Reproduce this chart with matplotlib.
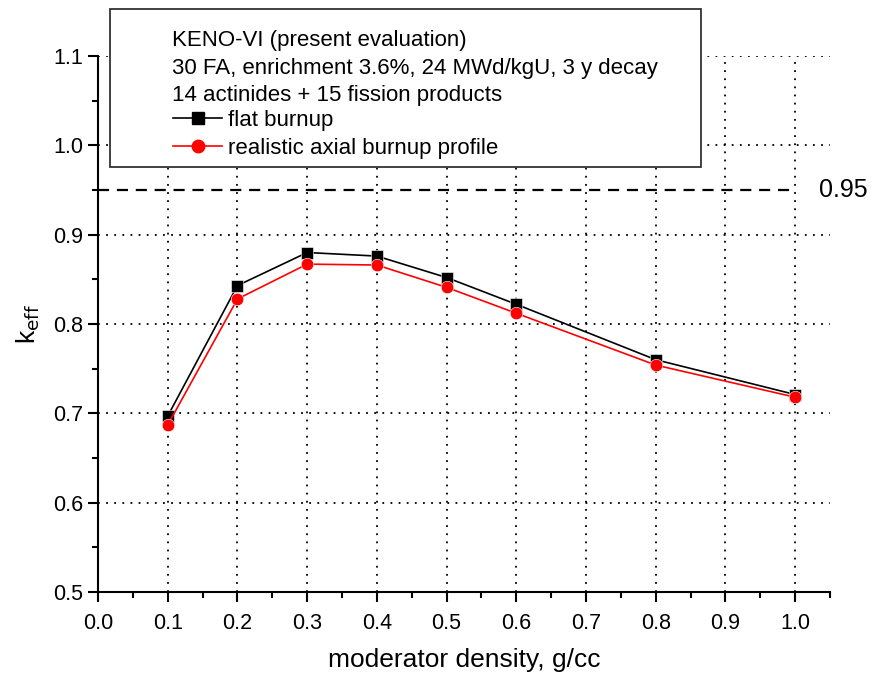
import matplotlib
matplotlib.use("Agg")
import matplotlib.pyplot as plt
from matplotlib.lines import Line2D
from matplotlib.patches import Rectangle
from matplotlib.ticker import MultipleLocator

plt.rcParams['font.family'] = ['Liberation Sans', 'DejaVu Sans']

# data
density = [0.1, 0.2, 0.3, 0.4, 0.5, 0.6, 0.8, 1.0]
k_flat = [0.697, 0.843, 0.880, 0.876, 0.852, 0.822, 0.760, 0.721]
k_profile = [0.687, 0.828, 0.867, 0.866, 0.841, 0.812, 0.754, 0.718]
limit = 0.95
info_lines = ["KENO-VI (present evaluation)",
              "30 FA, enrichment 3.6%, 24 MWd/kgU, 3 y decay",
              "14 actinides + 15 fission products"]
series_labels = ["flat burnup", "realistic axial burnup profile"]

fig = plt.figure(figsize=(8.73, 6.77), dpi=100)
ax = fig.add_axes([0.1123, 0.1256, 0.8385, 0.7917])

ax.plot(density, k_flat, color="black", lw=1.2, marker="s", ms=8,
        markeredgecolor="white", markeredgewidth=0.4, zorder=4)
ax.plot(density, k_profile, color="red", lw=1.2, marker="o", ms=9,
        markeredgecolor="white", markeredgewidth=0.4, zorder=5)

# limit line
ax.hlines(limit, 0, 1.0, colors="black", linestyles=(0, (5, 3.5)), lw=1.6, zorder=3)
ax.text(1.034, limit, "0.95", fontsize=18, va="center", ha="left", clip_on=False)

ax.set_xlim(0, 1.05)
ax.set_ylim(0.5, 1.1)
ax.xaxis.set_major_locator(MultipleLocator(0.1))
ax.xaxis.set_minor_locator(MultipleLocator(0.05))
ax.yaxis.set_major_locator(MultipleLocator(0.1))
ax.yaxis.set_minor_locator(MultipleLocator(0.05))
ax.xaxis.set_major_formatter(plt.FormatStrFormatter("%.1f"))
ax.yaxis.set_major_formatter(plt.FormatStrFormatter("%.1f"))

ax.grid(True, which="major", color="black", linestyle=(0, (1, 3.5)), lw=1.3)
ax.get_ygridlines()[-1].set_visible(False)

for s in ["top", "right"]:
    ax.spines[s].set_visible(False)
for s in ["left", "bottom"]:
    ax.spines[s].set_linewidth(1.5)

ax.tick_params(which="major", direction="out", length=7, width=1.5, labelsize=15.5)
ax.tick_params(axis="x", which="major", pad=8)
ax.tick_params(which="minor", direction="out", length=4, width=1.5)

ax.set_xlabel("moderator density, g/cc", fontsize=19, labelpad=10)
ax.set_ylabel(r"k$_{\rm eff}$", fontsize=19, labelpad=8)

# info box
fig.patches.append(Rectangle((110 / 873, 1 - 167 / 677), 591 / 873, 158 / 677,
                             transform=fig.transFigure, facecolor="white",
                             edgecolor="#333333", lw=1.3, zorder=10))
fig.text(172 / 873, 1 - 30 / 677, "\n".join(info_lines), fontsize=16,
         va="top", ha="left", linespacing=1.42, zorder=11)

handles = [Line2D([], [], color="black", lw=1.2, marker="s", ms=8),
           Line2D([], [], color="red", lw=1.2, marker="o", ms=9)]
leg = fig.legend(handles, series_labels, loc="upper left",
                 bbox_to_anchor=(162 / 873, 1 - 99 / 677), frameon=False,
                 fontsize=16, handlelength=2.2, handletextpad=0.25,
                 labelspacing=0.3, borderpad=0)
leg.set_zorder(12)

fig.savefig("out.png", dpi=100)
